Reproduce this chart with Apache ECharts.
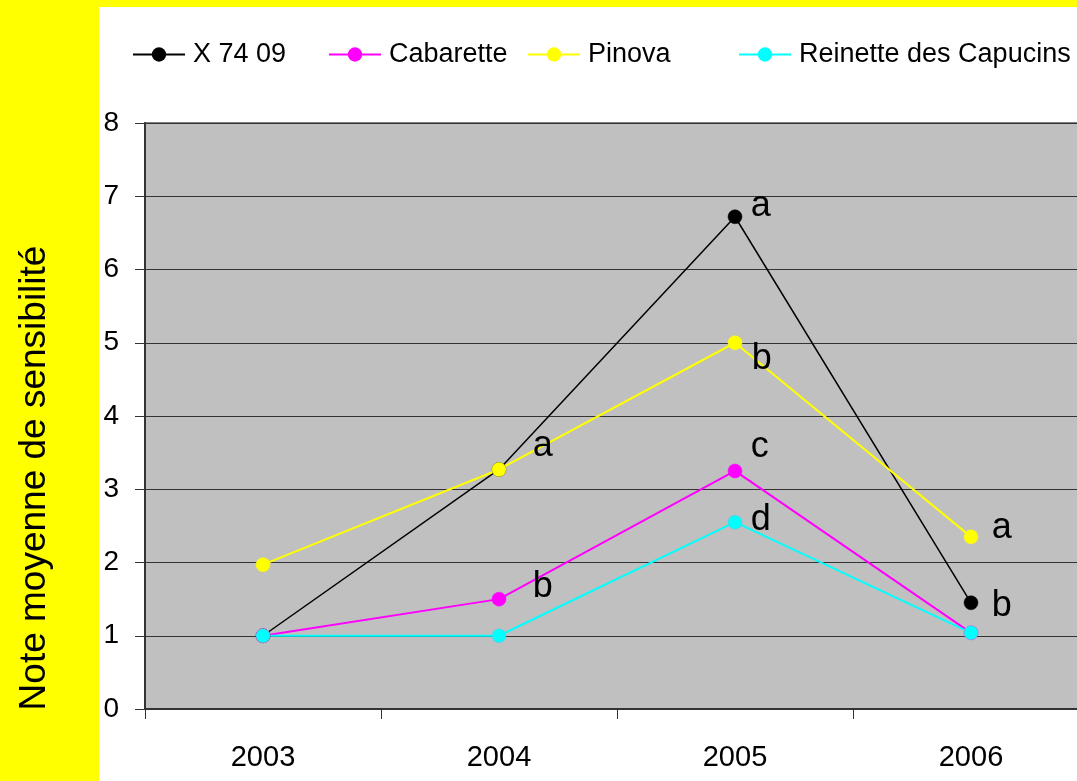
<!DOCTYPE html>
<html>
<head>
<meta charset="utf-8">
<script src="https://cdn.jsdelivr.net/npm/echarts@6/dist/echarts.min.js"></script>
<style>
html,body{margin:0;padding:0;background:#ffff00;overflow:hidden;}
#chart{width:1100px;height:781px;}
</style>
</head>
<body>
<div id="chart"></div>
<script>
// ---- data ----
var years = ['2003', '2004', '2005', '2006'];
var yTicks = [0, 1, 2, 3, 4, 5, 6, 7, 8];
var seriesNames = ['X 74 09', 'Cabarette', 'Pinova', 'Reinette des Capucins'];
var x7409 = [1.0, 3.27, 6.72, 1.45];
var cabarette = [1.0, 1.5, 3.25, 1.04];
var pinova = [1.97, 3.27, 5.0, 2.35];
var reinette = [1.0, 1.0, 2.55, 1.04];
var x7409Letters = ['', 'a', 'a', 'b'];
var cabaretteLetters = ['', 'b', 'c', ''];
var pinovaLetters = ['', '', 'b', 'a'];
var reinetteLetters = ['', '', 'd', ''];
var yTitle = 'Note moyenne de sensibilité';

// ---- styling (label offsets relative to the point centre) ----
var colors = ['#000000', '#ff00ff', '#ffff00', '#00ffff'];
var borderColors = ['#000000', '#ff00ff', '#ffff00', '#7fb8d0'];
var lineWidths = [1.5, 2, 2, 2];
var labelOffsets = {
  0: {1: [34, -23], 2: [16, -10], 3: [21, 4]},
  1: {1: [34, -12], 2: [16, -24]},
  2: {2: [17, 17], 3: [21, -9]},
  3: {2: [16, -2]}
};
var SYM = 14;
var FONT = 'Liberation Sans, Arial, sans-serif';

function buildData(values, letters, si) {
  return values.map(function (v, i) {
    var item = {value: v};
    if (letters[i]) {
      var off = (labelOffsets[si] && labelOffsets[si][i]) || [16, 0];
      item.label = {
        show: true,
        formatter: letters[i],
        position: [SYM / 2 + off[0], SYM / 2 + off[1]],
        align: 'left',
        verticalAlign: 'middle',
        fontSize: 36,
        fontFamily: FONT,
        color: '#000'
      };
    }
    return item;
  });
}

var allValues = [x7409, cabarette, pinova, reinette];
var allLetters = [x7409Letters, cabaretteLetters, pinovaLetters, reinetteLetters];

var series = seriesNames.map(function (name, si) {
  return {
    name: name,
    type: 'line',
    data: buildData(allValues[si], allLetters[si], si),
    symbol: 'circle',
    symbolSize: SYM,
    showAllSymbol: true,
    color: colors[si],
    lineStyle: {color: colors[si], width: lineWidths[si]},
    itemStyle: {color: colors[si], borderColor: borderColors[si], borderWidth: 0.5},
    emphasis: {disabled: true},
    animation: false
  };
});

var legendLefts = [132, 328, 527, 738];
var legends = seriesNames.map(function (name, si) {
  return {
    data: [name],
    left: legendLefts[si],
    top: 41,
    padding: 0,
    itemWidth: 52,
    itemHeight: 18,
    selectedMode: false,
    itemStyle: {borderWidth: 0},
    textStyle: {fontSize: 27, fontFamily: FONT, color: '#000', padding: [0, 0, 0, 3]}
  };
});

var chart = echarts.init(document.getElementById('chart'));
chart.setOption({
  backgroundColor: '#ffff00',
  animation: false,
  textStyle: {fontFamily: FONT},
  graphic: [
    {type: 'rect', z: -100, silent: true, shape: {x: 99, y: 7, width: 1001, height: 774}, style: {fill: '#ffffff'}},
    {type: 'text', z: 100, silent: true, x: 35, y: 478, rotation: Math.PI / 2,
      style: {text: yTitle, fontSize: 37, fontFamily: FONT, fill: '#000', align: 'center', verticalAlign: 'middle'}}
  ],
  legend: legends,
  grid: {
    left: 145, top: 123, width: 944, bottom: 72,
    show: true, backgroundColor: '#c0c0c0', borderColor: '#808080', borderWidth: 2
  },
  xAxis: {
    type: 'category',
    data: years,
    boundaryGap: true,
    axisLine: {lineStyle: {color: '#333333', width: 2}},
    axisTick: {show: true, length: 10, lineStyle: {color: '#333333', width: 1}},
    axisLabel: {fontSize: 29, color: '#000', margin: 34, fontFamily: FONT},
    splitLine: {show: false}
  },
  yAxis: {
    type: 'value',
    min: yTicks[0],
    max: yTicks[yTicks.length - 1],
    interval: 1,
    axisLine: {show: true, lineStyle: {color: '#333333', width: 2}},
    axisTick: {show: true, length: 10, lineStyle: {color: '#333333', width: 1}},
    axisLabel: {fontSize: 28, color: '#000', margin: 26, fontFamily: FONT},
    splitLine: {show: true, lineStyle: {color: '#333333', width: 1}}
  },
  series: series
});
</script>
</body>
</html>
